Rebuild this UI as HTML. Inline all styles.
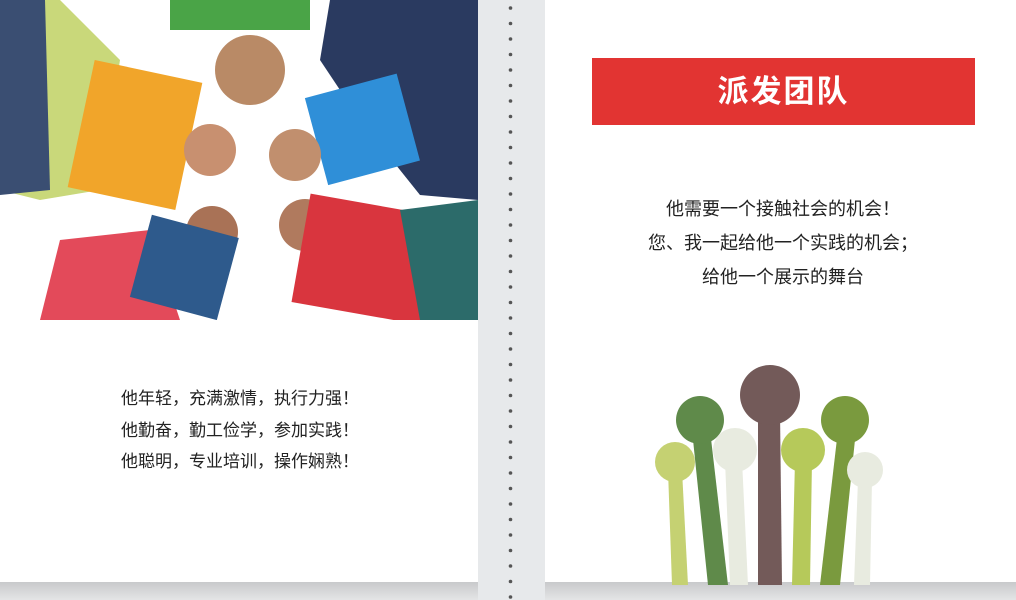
<!DOCTYPE html>
<html><head><meta charset="utf-8"><style>
body{margin:0;width:1016px;height:600px;overflow:hidden;background:#fff;position:relative;font-family:"Liberation Sans","Noto Sans CJK SC",sans-serif}
.abs{position:absolute}
.txt{color:#222;text-align:center}
</style></head><body>
<div class="abs" style="left:0;top:0;width:478px;height:600px;background:#fff"></div>
<div class="abs" style="left:478px;top:0;width:67px;height:600px;background:#e7e9eb"></div>
<div class="abs" style="left:545px;top:0;width:471px;height:600px;background:#fff"></div>
<div class="abs" style="left:0;top:582px;width:478px;height:18px;background:linear-gradient(#c8c9cb,#e4e5e6)"></div>
<div class="abs" style="left:545px;top:582px;width:471px;height:18px;background:linear-gradient(#c8c9cb,#e4e5e6)"></div>
<svg class="abs" style="left:500px;top:0" width="20" height="600">
<g fill="#555" id="dots"></g></svg>
<script>
var g=document.getElementById('dots');
for(var y=8;y<600;y+=15.5){var c=document.createElementNS('http://www.w3.org/2000/svg','circle');c.setAttribute('cx',10.5);c.setAttribute('cy',y);c.setAttribute('r',1.8);


g.appendChild(c);}
</script>
<svg class="abs" style="left:0;top:0" width="478" height="320">
<rect width="478" height="320" fill="#fff"/>
<path d="M0 0 L60 0 L120 60 L100 190 L40 200 L0 190Z" fill="#c9d87a"/>
<path d="M0 0 L45 0 L50 190 L0 195Z" fill="#3a4e72"/>
<rect x="80" y="70" width="110" height="130" fill="#f1a52a" transform="rotate(12 135 135)"/>
<circle cx="210" cy="150" r="26" fill="#c89070"/>
<circle cx="250" cy="70" r="35" fill="#b98a66"/>
<rect x="170" y="0" width="140" height="30" fill="#4aa447"/>
<path d="M330 0 L478 0 L478 200 L420 195 L360 120 L320 60Z" fill="#2a3a60"/>
<rect x="315" y="85" width="95" height="90" fill="#2f8fd8" transform="rotate(-15 360 130)"/>
<circle cx="295" cy="155" r="26" fill="#c18f6e"/>
<path d="M40 320 L60 240 L150 230 L180 320Z" fill="#e34a5a"/>
<circle cx="212" cy="232" r="26" fill="#a97256"/>
<rect x="140" y="225" width="90" height="85" fill="#2e5a8c" transform="rotate(15 185 265)"/>
<circle cx="305" cy="225" r="26" fill="#b07a5e"/>
<rect x="300" y="205" width="140" height="110" fill="#d9353e" transform="rotate(10 370 260)"/>
<path d="M400 210 L478 200 L478 320 L420 320Z" fill="#2c6b6a"/>
</svg>
<div class="abs txt" style="left:0;top:383px;width:480px;font-size:17px;line-height:31.5px">他年轻，充满激情，执行力强！<br>他勤奋，勤工俭学，参加实践！<br>他聪明，专业培训，操作娴熟！</div>
<div class="abs" style="left:592px;top:58px;width:383px;height:67px;background:#e23432;color:#fff;font-size:31px;font-weight:bold;text-align:center;line-height:67px;letter-spacing:2px">派发团队</div>
<div class="abs txt" style="left:545px;top:192px;width:476px;font-size:18px;line-height:34px">他需要一个接触社会的机会！<br>您、我一起给他一个实践的机会；<br>给他一个展示的舞台</div>
<svg class="abs" style="left:630px;top:320px" width="280" height="265">
<g><path d="M38 150 L52 150 L58 265 L42 265Z" fill="#c5d172"/><circle cx="45" cy="142" r="20" fill="#c5d172"/></g>
<g><path d="M62 110 L80 110 L98 265 L78 265Z" fill="#5f8a4a"/><circle cx="70" cy="100" r="24" fill="#5f8a4a"/></g>
<g><path d="M95 140 L112 140 L118 265 L100 265Z" fill="#e8ebe0"/><circle cx="105" cy="130" r="22" fill="#e8ebe0"/></g>
<g><path d="M128 90 L150 90 L152 265 L128 265Z" fill="#735a59"/><circle cx="140" cy="75" r="30" fill="#735a59"/></g>
<g><path d="M165 140 L182 140 L180 265 L162 265Z" fill="#b6c95a"/><circle cx="173" cy="130" r="22" fill="#b6c95a"/></g>
<g><path d="M208 110 L226 110 L210 265 L190 265Z" fill="#7a9a3e"/><circle cx="215" cy="100" r="24" fill="#7a9a3e"/></g>
<g><path d="M228 160 L242 160 L240 265 L224 265Z" fill="#e8ebe0"/><circle cx="235" cy="150" r="18" fill="#e8ebe0"/></g>
</svg>
</body></html>
